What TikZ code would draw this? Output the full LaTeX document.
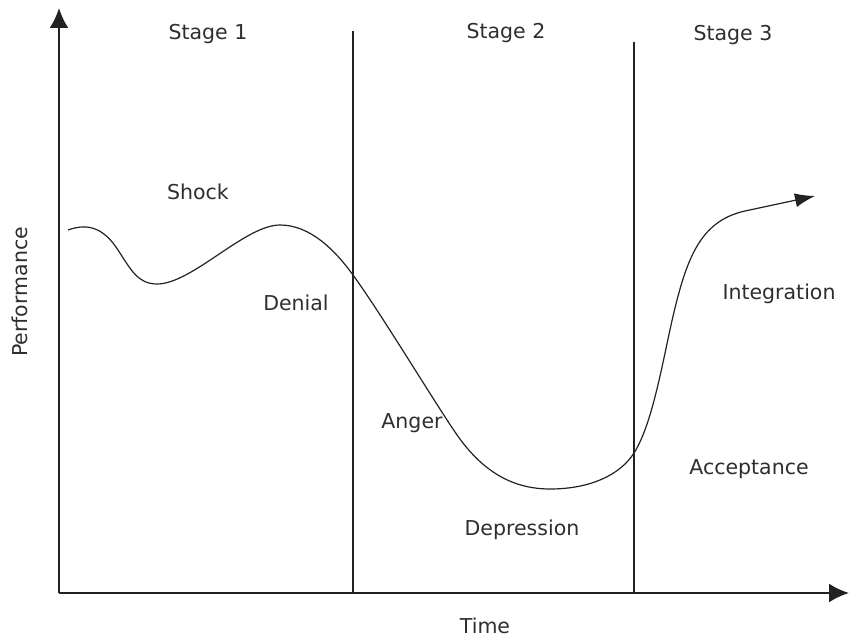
\documentclass[tikz,border=0pt]{standalone}
\usepackage{fontspec}
\setmainfont{DejaVu Sans}
\usetikzlibrary{arrows.meta}
\definecolor{ink}{HTML}{222222}
\definecolor{txt}{HTML}{2E2E2E}
\begin{document}
\begin{tikzpicture}[x=1pt,y=-1pt,
  lbl/.style={font=\fontsize{20.5}{24}\selectfont, text=txt, inner sep=0pt},
  axis/.style={draw=ink, line width=2.2pt, -{Latex[length=20pt,width=19pt]}},
  divider/.style={draw=ink, line width=1.3pt},
  curveline/.style={draw=ink, line width=1.2pt, -{Latex[length=20pt,width=14pt]}}]
\useasboundingbox (0,0) rectangle (849,639);
\coordinate (o) at (59,593);
\coordinate (ytop) at (59,8);
\coordinate (xend) at (849,593);
\coordinate (d1top) at (353,31);
\coordinate (d1bot) at (353,593);
\coordinate (d2top) at (634,42);
\coordinate (d2bot) at (634,593);
\coordinate (cend) at (815,196);
\draw[divider] (d1top) -- (d1bot);
\draw[divider] (d2top) -- (d2bot);
\draw[axis] (o) -- (ytop);
\draw[axis] (o) -- (xend);
\draw[curveline] (68,230) .. controls (90,222) and (105,230) .. (118,250)
  .. controls (131,270) and (138,284) .. (157,284)
  .. controls (192,284) and (245,225) .. (280,225)
  .. controls (310,225) and (335,250) .. (353,275)
  .. controls (380,312) and (430,395) .. (455,432)
  .. controls (480,469) and (510,489) .. (550,489)
  .. controls (590,489) and (620,475) .. (634,453)
  .. controls (655,420) and (665,345) .. (677,300)
  .. controls (690,250) and (705,220) .. (745,211)
  -- (cend);
\node[lbl] (s1) at (208,34) {Stage 1};
\node[lbl] (s2) at (506,33) {Stage 2};
\node[lbl] (s3) at (733,35) {Stage 3};
\node[lbl] (shock) at (198,192) {Shock};
\node[lbl] (denial) at (296,303) {Denial};
\node[lbl] (anger) at (412,423) {Anger};
\node[lbl] (depr) at (522,530) {Depression};
\node[lbl] (accept) at (749,469) {Acceptance};
\node[lbl] (integ) at (779,294) {Integration};
\node[lbl] (time) at (485,626) {Time};
\node[lbl, rotate=90] (perf) at (20,292) {Performance};
\end{tikzpicture}
\end{document}
